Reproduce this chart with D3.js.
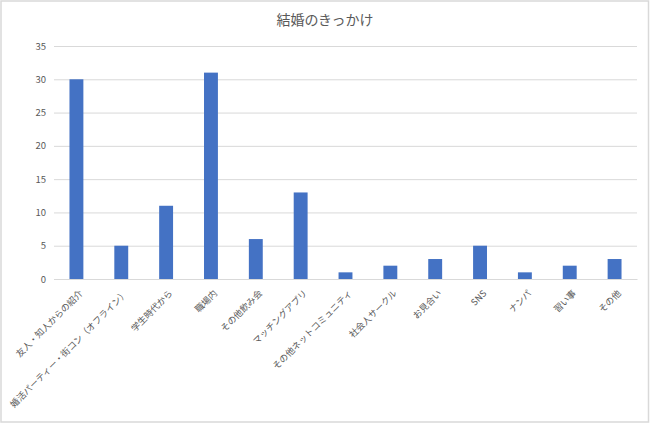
<!DOCTYPE html>
<html>
<head>
<meta charset="utf-8">
<script src="https://cdn.jsdelivr.net/npm/d3@7"></script>
<style>
  body { margin: 0; background: #fff; }
  text { font-family: "Noto Sans CJK JP", "Noto Sans", sans-serif; }
</style>
</head>
<body>
<div id="container"></div>
<script>
// chart data
const categories = [
    '友人・知人からの紹介',
    '婚活パーティー・街コン（オフライン）',
    '学生時代から',
    '職場内',
    'その他飲み会',
    'マッチングアプリ',
    'その他ネットコミュニティ',
    '社会人サークル',
    'お見合い',
    'SNS',
    'ナンパ',
    '習い事',
    'その他'
];
const counts = [30, 5, 11, 31, 6, 13, 1, 2, 3, 5, 1, 2, 3];
const yTicks = [0, 5, 10, 15, 20, 25, 30, 35];
const title = '結婚のきっかけ';

// declare dimensions
const width = 650;
const height = 424;
const margin = { top: 46, right: 13, bottom: 145, left: 54 };

const svg = d3.select('#container')
              .append('svg')
              .attr('width', width)
              .attr('height', height);

// chart frame
svg.append('rect')
   .attr('x', 1)
   .attr('y', 1)
   .attr('width', width - 2.5)
   .attr('height', height - 3)
   .attr('fill', '#fff')
   .attr('stroke', '#d9d9d9')
   .attr('stroke-width', 1.5);

const x = d3.scaleBand()
            .domain(categories)
            .range([margin.left, width - margin.right])
            .paddingInner(0.69)
            .paddingOuter(0.345);

const y = d3.scaleLinear()
            .domain([0, 35])
            .range([height - margin.bottom, margin.top]);

// gridlines + y labels
const yAxis = svg.append('g')
                 .attr('transform', `translate(${margin.left}, 0)`)
                 .call(d3.axisLeft(y)
                         .tickValues(yTicks)
                         .tickSize(-(width - margin.left - margin.right))
                         .tickPadding(8));
yAxis.select('.domain').remove();
yAxis.selectAll('line').attr('stroke', '#d9d9d9');
yAxis.selectAll('text')
     .attr('fill', '#595959')
     .style('font-size', '9.5px');

// bars
svg.selectAll('rect.bar')
   .data(categories)
   .enter()
   .append('rect')
   .attr('class', 'bar')
   .attr('x', (d) => x(d))
   .attr('y', (d, i) => y(counts[i]))
   .attr('width', x.bandwidth())
   .attr('height', (d, i) => y(0) - y(counts[i]))
   .attr('fill', '#4472c4');

// x axis line and rotated labels
const xAxis = svg.append('g')
                 .attr('transform', `translate(0, ${y(0)})`)
                 .call(d3.axisBottom(x).tickSize(0).tickPadding(0));
xAxis.select('.domain').attr('stroke', '#d9d9d9');
xAxis.selectAll('text')
     .attr('fill', '#595959')
     .style('font-size', '9px')
     .attr('text-anchor', 'end')
     .attr('dy', null)
     .attr('y', 0)
     .attr('transform', 'translate(7, 15) rotate(-45)');

// title
svg.append('text')
   .attr('x', width / 2)
   .attr('y', 25)
   .attr('text-anchor', 'middle')
   .attr('fill', '#595959')
   .style('font-size', '14px')
   .text(title);
</script>
</body>
</html>
